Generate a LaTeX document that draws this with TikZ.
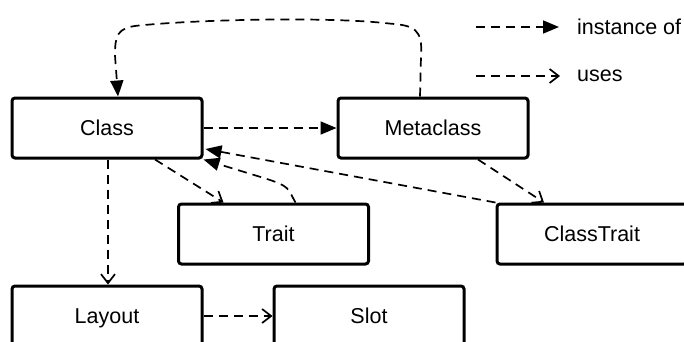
\documentclass[tikz,border=0pt]{standalone}
\usepackage{fontspec}
\setmainfont{Liberation Sans}
\usetikzlibrary{arrows.meta}
\begin{document}
\begin{tikzpicture}[x=1pt,y=-1pt,
  box/.style={draw, line width=3pt, rounded corners=3pt, minimum width=190pt, minimum height=60pt, inner sep=0pt, font=\fontsize{21.5}{24}\selectfont, text height=15.5pt, text depth=0pt},
  conn/.style={line width=1.7pt, dash pattern=on 9pt off 6pt},
  inst/.style={conn, -{Triangle[length=16pt,width=13pt]}},
  uses/.style={conn, -{Straight Barb[length=9pt,width=14pt,line width=1.7pt]}},
  legend/.style={anchor=west, inner sep=0pt, font=\fontsize{21.5}{24}\selectfont}]
\useasboundingbox (0,0) rectangle (684,341);
\clip (0,0) rectangle (684,341);
\node[box] (Class) at (107,128) {Class};
\node[box] (Meta) at (433,128) {Metaclass};
\node[box] (Trait) at (273.5,234) {Trait};
\node[box] (CT) at (592,234) {ClassTrait};
\node[box] (Layout) at (107,316) {Layout};
\node[box] (Slot) at (369,316) {Slot};
% connectors
\draw[inst] (Class.east) -- (Meta.west);
\draw[inst] ([xshift=-13pt]Meta.north) -- ++(1,-40) .. controls ++(2,-28) and ++(25,2) .. ++(-32,-33)
   .. controls ++(-60,-7) and ++(60,-6) .. ++(-250,2)
   .. controls ++(-22,2) and ++(0,-20) .. ++(-24,30) -- ([xshift=11pt]Class.north);
\draw[uses] ([xshift=48pt]Class.south) -- ([xshift=-50pt]Trait.north);
\draw[inst] ([xshift=22pt]Trait.north) .. controls ++(-8,-14) and ++(25,8) .. ++(-30,-24) -- (Class.south east);
\draw[inst] (CT.north west) -- ([xshift=2pt,yshift=-21pt]Class.east);
\draw[uses] ([xshift=45pt]Meta.south) -- ([xshift=-48pt]CT.north);
\draw[uses] ([xshift=1pt]Class.south) -- ([xshift=1pt]Layout.north);
\draw[uses] (Layout.east) -- (Slot.west);
% legend
\coordinate (l1a) at (476,27);
\coordinate (l1b) at (559,27);
\coordinate (l2a) at (476,76);
\coordinate (l2b) at (560,76);
\draw[inst] (l1a) -- (l1b);
\draw[uses] (l2a) -- (l2b);
\node[legend] (t1) at (577,27) {instance of};
\node[legend] (t2) at (577,76) {uses};
\end{tikzpicture}
\end{document}
